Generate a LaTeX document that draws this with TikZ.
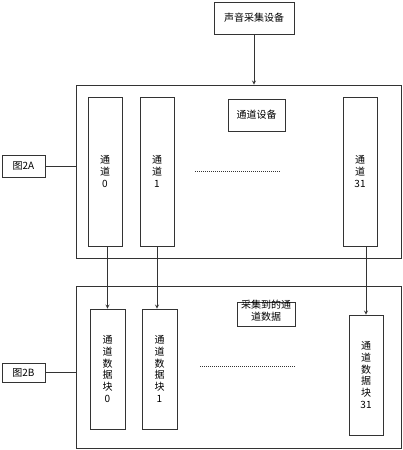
\documentclass[tikz,border=0pt]{standalone}
\usepackage{fontspec}
\setmainfont{Noto Sans CJK SC}
\begin{document}
\begin{tikzpicture}[x=1pt,y=-1pt,>=stealth,
    box/.style={draw=black!80,line width=0.8pt,inner sep=0pt,align=center,
      font=\fontsize{10}{11.8}\selectfont},
    frame/.style={draw=black!80,line width=0.8pt,inner sep=0pt},
    link/.style={draw=black!80,line width=0.8pt}]
  \useasboundingbox (0,0) rectangle (402,450);
  % source
  \node[box,minimum width=80,minimum height=32] (mic) at (254,18) {声音采集设备};
  % upper frame, figure 2A
  \node[frame,minimum width=325,minimum height=173] (devA) at (238.5,171.5) {};
  \node[box,minimum width=57,minimum height=32] (devlbl) at (256.5,115) {通道设备};
  \node[box,minimum width=34,minimum height=149] (ch0) at (105,171.5) {通\\道\\0};
  \node[box,minimum width=34,minimum height=149] (ch1) at (157,171.5) {通\\道\\1};
  \node[box,minimum width=34,minimum height=149] (ch31) at (360,171.5) {通\\道\\31};
  \draw[link,dash pattern=on 1pt off 1pt] (195,171) -- (281,171);
  \node[box,minimum width=43,minimum height=22] (figA) at (23.5,166) {图2A};
  % lower frame, figure 2B
  \node[frame,minimum width=325,minimum height=162] (devB) at (238.5,367) {};
  \node[box,minimum width=58,minimum height=24] (datlbl) at (266,314) {};
  \node[font=\fontsize{10}{12}\selectfont,align=center,inner sep=0pt] (dattxt) at (266,310.5) {采集到的通\\道数据};
  \node[box,minimum width=35,minimum height=120] (blk0) at (107.5,369) {通\\道\\数\\据\\块\\0};
  \node[box,minimum width=35,minimum height=120] (blk1) at (159.5,369) {通\\道\\数\\据\\块\\1};
  \node[box,minimum width=34,minimum height=120] (blk31) at (366,375) {通\\道\\数\\据\\块\\31};
  \draw[link,dash pattern=on 1pt off 1pt] (200,366) -- (295,366);
  \node[box,minimum width=43,minimum height=19] (figB) at (23.5,372.5) {图2B};
  % connectors
  \draw[link,->] (mic.south) -- (mic.south |- devA.north);
  \draw[link] (figA.east) -- (figA.east -| devA.west);
  \draw[link] (figB.east) -- (figB.east -| devB.west);
  \draw[link,->] (blk0.north |- ch0.south) -- (blk0.north);
  \draw[link,->] (ch1.south) -- (ch1.south |- blk1.north);
  \draw[link,->] (blk31.north |- ch31.south) -- (blk31.north);
\end{tikzpicture}
\end{document}
